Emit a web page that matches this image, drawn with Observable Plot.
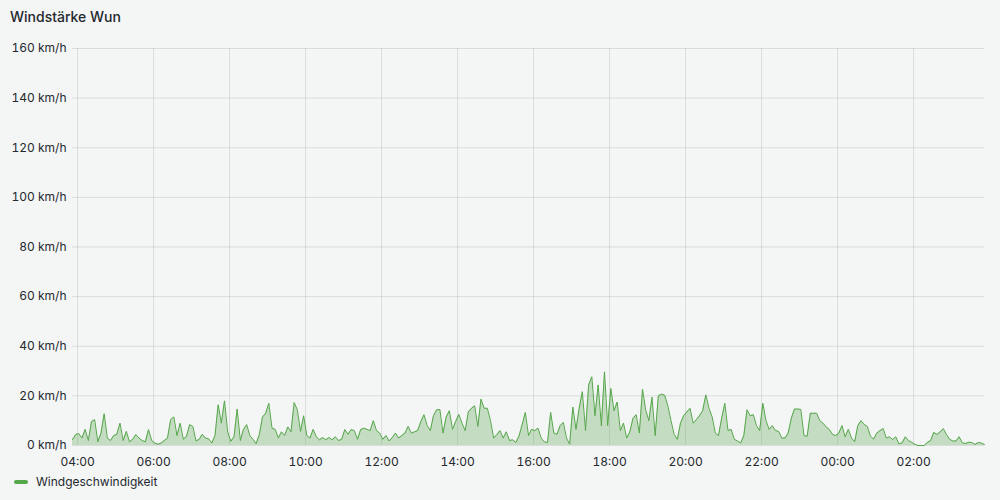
<!DOCTYPE html>
<html>
<head>
<meta charset="utf-8">
<script src="https://cdn.jsdelivr.net/npm/d3@7"></script>
<script src="https://cdn.jsdelivr.net/npm/@observablehq/plot@0.6"></script>
<style>
  html, body { margin: 0; padding: 0; background: #f4f5f5; }
  body { width: 1000px; height: 500px; overflow: hidden; font-family: Inter, "Noto Sans", sans-serif; }
  #title { height: 34px; line-height: 34px; padding-left: 10px; font-size: 14px; font-weight: 500; color: #24292e; }
  #chart svg { display: block; }
  #legend { height: 16px; line-height: 16px; font-size: 12px; color: #24292e; padding-left: 14px; display: flex; align-items: center; }
  #legend .sw { display: inline-block; width: 14px; height: 4px; border-radius: 2px; background: #56a64b; margin-right: 8px; }
</style>
</head>
<body>
<div id="title">Windstärke Wun</div>
<div id="chart"></div>
<div id="legend"><span class="sw"></span>Windgeschwindigkeit</div>
<script>
// Series start (local time) and sample spacing
const startTime = [2024, 0, 1, 3, 52];
const stepMinutes = 5;
const seriesName = "Windgeschwindigkeit";

// Wind speed in km/h, one value every 5 minutes (03:52 -> 03:52 next day)
const windSpeed = [
  2.4, 4.4, 4.8, 3, 6.5, 2, 9.7, 10.4, 1.5, 5, 12.8, 3, 2, 4, 4.5, 9, 2, 5.7, 1.5, 2.5, 4.4, 3, 2, 1.5, 6.4, 2, 1, 0.5, 1, 2, 3, 10.4, 11.5, 4, 9, 2.5,
  3.7, 8.4, 7.7, 1.8, 2.5, 4.5, 3, 2.7, 1, 4, 16.4, 9, 18, 5.5, 1.7, 3.5, 14.7, 2, 6.5, 8.4, 4, 2.5, 0.7, 4.4, 11.5, 13, 17, 7, 6.5, 3, 5.5, 4, 7.5, 5.5, 17.3, 14.4, 5.7,
  12, 4, 3, 6.5, 3.5, 2.3, 3.2, 2.3, 3.2, 2.3, 3.5, 2, 2.5, 6.4, 4.5, 6.4, 6, 2.5, 6.4, 7, 6.5, 6, 10, 6, 5, 2.5, 4, 1.8, 3.2, 5, 3, 4, 5, 7.7, 5, 5.5,
  6, 9.7, 12.4, 8, 6, 12, 14.4, 14.5, 5, 11.5, 14, 6.5, 9.7, 12.5, 9, 6, 13.5, 15, 16, 7.7, 18.7, 15, 15, 10, 3, 4.4, 6, 3, 5.5, 2, 2.3, 1.2, 3.8, 8.4, 13.3, 4,
  6.5, 6, 7, 3, 1.5, 1.2, 13.3, 5, 4.5, 8, 9.3, 3, 0.5, 15.5, 6.5, 15, 21.7, 6, 24.4, 27.7, 12, 24.4, 8, 29.7, 8, 23, 14, 17.5, 6, 9, 3, 5.5, 11, 12.4, 5, 22.7, 14.4,
  10, 19.5, 4, 20, 20.7, 20.3, 16, 10, 4.5, 2.5, 9, 12, 13.5, 15, 9, 10.4, 12, 14, 20.4, 15, 11.5, 5, 4, 11, 17, 6, 6.5, 2.5, 1.8, 1, 4, 14.4, 12, 12.4, 8, 6,
  17, 10, 6.5, 8, 6, 5.7, 3, 3, 5, 11, 14.7, 14.7, 14.5, 4, 3.7, 13, 13, 13, 10, 9, 7.5, 6.5, 4.5, 4, 5, 8, 3.5, 6.5, 3, 1.5, 8, 10, 8.5, 7.7, 3.7, 2.6,
  5, 6, 6.8, 3, 3.5, 2.4, 3.5, 0.6, 1.1, 3.5, 2, 1.3, 0.5, 0, 0, 0, 1.3, 2, 5.3, 4.4, 5.5, 6.8, 4.4, 2.5, 1.8, 1.8, 3.5, 1.1, 0.8, 1.3, 1.2, 0.4, 1.2, 1, 0.4
];

// Axis ticks
const xTickLabels = ["04:00", "06:00", "08:00", "10:00", "12:00", "14:00", "16:00", "18:00", "20:00", "22:00", "00:00", "02:00"];
const yTicks = [0, 20, 40, 60, 80, 100, 120, 140, 160];
const yUnit = "km/h";

// Build table
const t0 = new Date(...startTime);
const data = windSpeed.map((v, i) => ({ time: new Date(t0.getTime() + i * stepMinutes * 60000), speed: v, series: seriesName }));
const t1 = data[data.length - 1].time;
const xTicks = xTickLabels.map(lbl => {
  const [h, m] = lbl.split(":").map(Number);
  const d = new Date(t0);
  d.setHours(h, m, 0, 0);
  if (d < t0) d.setDate(d.getDate() + 1);
  return d;
});
const labelFor = new Map(xTicks.map((d, i) => [d.getTime(), xTickLabels[i]]));

const green = "#56a64b";
const chart = Plot.plot({
  width: 1000,
  height: 440,
  marginLeft: 72,
  marginRight: 16,
  marginTop: 14,
  marginBottom: 29,
  style: { background: "transparent", fontFamily: "Inter, 'Noto Sans', sans-serif", fontSize: "12px", color: "#464c54" },
  x: { type: "time", domain: [t0, t1] },
  y: { domain: [0, 160] },
  marks: [
    Plot.gridX(xTicks, { stroke: "#000", strokeOpacity: 0.1 }),
    Plot.gridY(yTicks, { stroke: "#000", strokeOpacity: 0.1 }),
    Plot.areaY(data, { x: "time", y: "speed", fill: green, fillOpacity: 0.3 }),
    Plot.lineY(data, { x: "time", y: "speed", stroke: green, strokeWidth: 1 }),
    Plot.axisX(xTicks, { tickSize: 0, tickPadding: 12, tickFormat: d => labelFor.get(d.getTime()), label: null, fill: "#24292e" }),
    Plot.axisY(yTicks, { tickSize: 0, tickPadding: 6, tickFormat: d => `${d} ${yUnit}`, label: null, fill: "#24292e" })
  ]
});
document.getElementById("chart").appendChild(chart);
</script>
</body>
</html>
